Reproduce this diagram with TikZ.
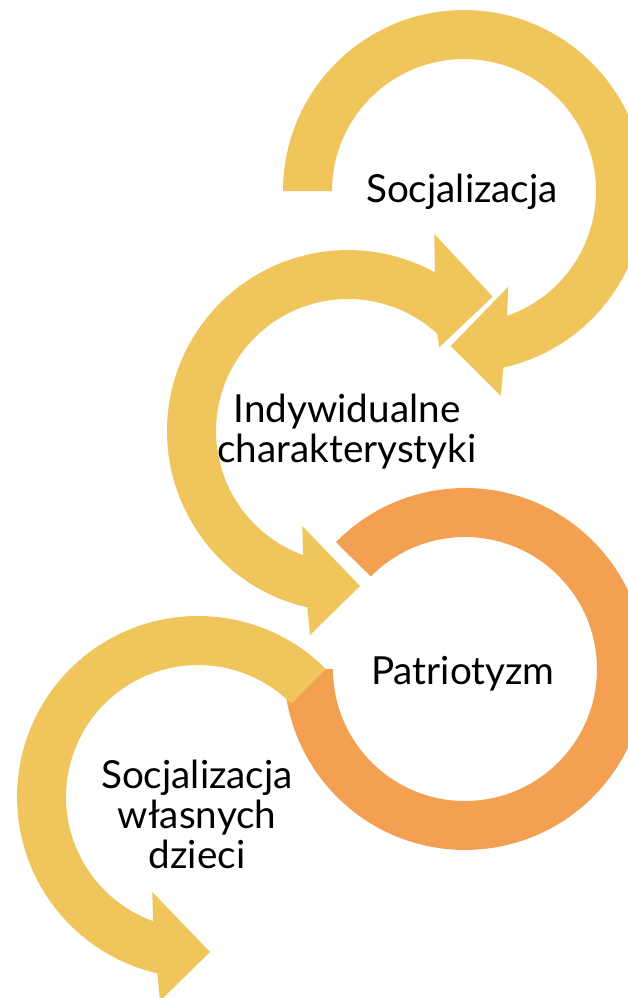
\documentclass[tikz,border=0pt]{standalone}
\usepackage{fontspec}
\setmainfont{Lato}
\definecolor{yel}{HTML}{EFC55C}
\definecolor{org}{HTML}{F3A052}
\begin{document}
\begin{tikzpicture}[x=0.02cm,y=0.02cm,
  yarrow/.style={fill=yel,draw=none},
  oarrow/.style={fill=org,draw=none},
  lbl/.style={font=\fontsize{22}{22.7}\selectfont,align=center,anchor=base,inner sep=0pt,text=black}]
\clip (0,0) rectangle (628,-998);
\useasboundingbox (0,0) rectangle (628,-998);
\coordinate (C1) at (464,-191);
\coordinate (C2) at (348,-431);
\coordinate (C3) at (465,-669);
\coordinate (C4) at (198,-797);
% arrow 1
\fill[yarrow] ([shift={(C1)}]180:181) arc[start angle=180,end angle=-77.4,radius=3.62cm]
  -- (500.7,-395.7) -- (450.7,-346) -- (508.3,-286.7)
  -- ([shift={(C1)}]-71:132) arc[start angle=-71,end angle=180,radius=2.64cm] -- cycle;
% arrow 2 (double headed)
\fill[yarrow] (492.7,-296.7) -- (439.3,-347.3)
  -- ([shift={(C2)}]47.4:132) arc[start angle=47.4,end angle=250.1,radius=2.64cm]
  -- (302.3,-526) -- (360,-586) -- (310,-635)
  -- ([shift={(C2)}]257:181) arc[start angle=257,end angle=61.3,radius=3.62cm]
  -- (434.3,-234) -- cycle;
% orange ring
\fill[oarrow] ([shift={(C3)}]135.5:181) arc[start angle=135.5,end angle=-180,radius=3.62cm]
  -- ([shift={(C3)}]180:132) arc[start angle=-180,end angle=135.5,radius=2.64cm] -- cycle;
% arrow 4
\fill[yarrow] ([shift={(C4)}]45:181) arc[start angle=45,end angle=257,radius=3.62cm]
  -- (160,-1001) -- (210,-952) -- (152.3,-892)
  -- ([shift={(C4)}]250.1:132) arc[start angle=250.1,end angle=45,radius=2.64cm] -- cycle;
% labels (multi-line nodes sit on the baseline of their last line)
\node[lbl] (t1) at (462,-202) {Socjalizacja};
\node[lbl] (t2) at (347,-462) {Indywidualne\\charakterystyki};
\node[lbl] (t3) at (463,-684) {Patriotyzm};
\node[lbl] (t4) at (197,-868) {Socjalizacja\\własnych\\dzieci};
\end{tikzpicture}
\end{document}
